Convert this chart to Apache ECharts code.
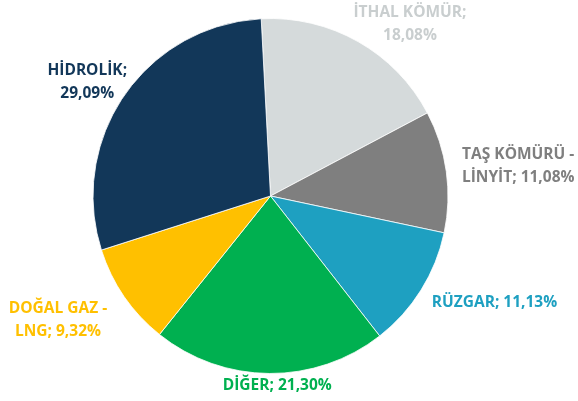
<!DOCTYPE html>
<html>
<head>
<meta charset="utf-8">
<script src="https://cdn.jsdelivr.net/npm/echarts@6/dist/echarts.min.js"></script>
<style>
  html, body { margin: 0; padding: 0; background: #fff; }
  #main { width: 578px; height: 401px; }
</style>
</head>
<body>
<div id="main"></div>
<script>
// kaynak payları (%)
var kaynaklar = ['İTHAL KÖMÜR', 'TAŞ KÖMÜRÜ -\nLİNYİT', 'RÜZGAR', 'DİĞER', 'DOĞAL GAZ -\nLNG', 'HİDROLİK'];
var paylar = [18.08, 11.08, 11.13, 21.30, 9.32, 29.09];
var ayraclar = [';\n', '; ', '; ', '; ', '; ', ';\n'];
var renkler = ['#D5DADB', '#7F7F7F', '#1EA0C1', '#00B050', '#FFC000', '#123759'];
var yaziRenkleri = ['#C9CECF', '#7F7F7F', '#1EA0C1', '#00B050', '#FFC000', '#123759'];

// etiket kaydırmaları (varsayılan dış konumdan)
var etiketKaydir = [[42, -9], [57, -4], [60, 7], [13, 2], [-53, 18], [-24, -7]];

var myChart = echarts.init(document.getElementById('main'), null, { renderer: 'canvas' });

var veri = [];
for (var i = 0; i < kaynaklar.length; i++) {
    veri.push({
        name: kaynaklar[i],
        value: paylar[i],
        itemStyle: { color: renkler[i] },
        label: { color: yaziRenkleri[i] }
    });
}

var option = {
    animation: false,
    series: [
        {
            type: 'pie',
            center: [270.5, 196],
            radius: 177.5,
            startAngle: 93,
            clockwise: true,
            data: veri,
            itemStyle: { borderColor: '#fff', borderWidth: 0.8 },
            label: {
                show: true,
                position: 'outside',
                overflow: 'none',
                fontFamily: 'Open Sans',
                fontWeight: 'bold',
                fontSize: 15.5,
                lineHeight: 23,
                formatter: function (p) {
                    return p.name + ayraclar[p.dataIndex] + p.value.toFixed(2).replace('.', ',') + '%';
                }
            },
            labelLine: { show: false, length: 10, length2: 0 },
            labelLayout: function (p) {
                var k = etiketKaydir[p.dataIndex];
                return { align: 'center', dx: k[0], dy: k[1] };
            }
        }
    ]
};
myChart.setOption(option);
</script>
</body>
</html>
